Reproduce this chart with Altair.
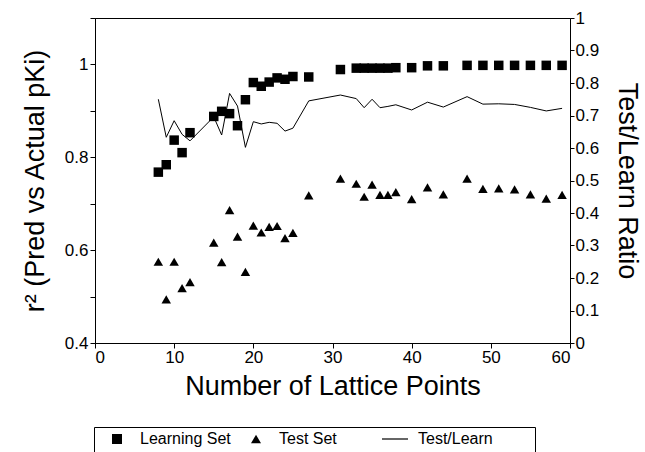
import altair as alt
import pandas as pd

# Number of lattice points
lattice = [8, 9, 10, 11, 12, 15, 16, 17, 18, 19, 20, 21, 22, 23, 24, 25, 27, 31,
           33, 34, 35, 36, 37, 38, 40, 42, 44, 47, 49, 51, 53, 55, 57, 59]
learning_r2 = [0.768, 0.784, 0.837, 0.810, 0.853, 0.888, 0.899, 0.894, 0.868, 0.924,
               0.961, 0.953, 0.962, 0.971, 0.968, 0.974, 0.973, 0.989,
               0.992, 0.992, 0.992, 0.992, 0.992, 0.993, 0.993, 0.997, 0.997, 0.998,
               0.998, 0.998, 0.998, 0.998, 0.998, 0.998]
test_r2 = [0.575, 0.494, 0.575, 0.518, 0.531, 0.616, 0.574, 0.686, 0.629, 0.553,
           0.653, 0.638, 0.650, 0.652, 0.626, 0.637, 0.718, 0.754,
           0.743, 0.715, 0.741, 0.719, 0.719, 0.725, 0.710, 0.735, 0.720, 0.754,
           0.732, 0.733, 0.731, 0.720, 0.711, 0.719]
ratio = [0.750, 0.633, 0.684, 0.642, 0.622, 0.696, 0.640, 0.768, 0.729, 0.602,
         0.681, 0.674, 0.679, 0.676, 0.652, 0.661, 0.745, 0.763,
         0.752, 0.724, 0.750, 0.724, 0.728, 0.733, 0.717, 0.741, 0.726, 0.758,
         0.735, 0.736, 0.734, 0.725, 0.714, 0.722]

series_names = ["Learning Set", "Test Set", "Test/Learn"]

pts = pd.DataFrame({
    "x": lattice + lattice,
    "r2": learning_r2 + test_r2,
    "series": [series_names[0]] * len(lattice) + [series_names[1]] * len(lattice),
})
line_df = pd.DataFrame({"x": lattice, "ratio": ratio})

FONT = "Liberation Sans"

x_enc = alt.X("x:Q", scale=alt.Scale(domain=[0, 60], nice=False),
              axis=alt.Axis(title="Number of Lattice Points", values=list(range(0, 61, 10)),
                            tickSize=5, labelPadding=1, titlePadding=8,
                            titleFontSize=27, titleFontWeight="normal"))

points = alt.Chart(pts).mark_point(filled=True, size=90, color="black", opacity=1).encode(
    x=x_enc,
    y=alt.Y("r2:Q", scale=alt.Scale(domain=[0.4, 1.1], nice=False, zero=False),
            axis=alt.Axis(title="r² (Pred vs Actual pKi)",
                          values=[0.4, 0.5, 0.6, 0.7, 0.8, 0.9, 1.0, 1.1],
                          labelExpr="indexof(['0.4','0.6','0.8','1'], format(datum.value, '.1~f')) >= 0 ? format(datum.value, '.1~f') : ''",
                          tickSize=5, labelPadding=2, titlePadding=15,
                          titleFontSize=27, titleFontWeight="normal")),
    shape=alt.Shape("series:N",
                    scale=alt.Scale(domain=series_names,
                                    range=["square", "triangle-up",
                                           "M-2.6,-0.12H2.6V0.12H-2.6Z"]),
                    legend=alt.Legend(title="\u00a0\u00a0", titleOrient="right",
                                      titlePadding=38, titleFontSize=30,
                                      orient="none", direction="horizontal",
                                      columns=3, gridAlign="all",
                                      legendX=-1, legendY=409,
                                      strokeColor="black", padding=4,
                                      symbolOffset=11,
                                      symbolSize=100, symbolFillColor="black",
                                      symbolOpacity=1,
                                      labelFont=FONT, labelFontSize=16, labelColor="black",
                                      labelOffset=15, columnPadding=6,
                                      cornerRadius=0)),
)

line = alt.Chart(line_df).mark_line(color="black", strokeWidth=1).encode(
    x=alt.X("x:Q"),
    y=alt.Y("ratio:Q", scale=alt.Scale(domain=[0, 1], nice=False),
            axis=alt.Axis(title="Test/Learn Ratio", orient="right",
                          values=[round(i * 0.1, 1) for i in range(11)],
                          format=".1~f", tickSize=4, labelPadding=1, titlePadding=14,
                          titleFontSize=27, titleFontWeight="normal")),
)

chart = alt.layer(points, line).resolve_scale(y="independent").properties(
    width=475, height=325,
    background="white",
    autosize=alt.AutoSizeParams(type="none"),
    padding={"left": 95, "top": 18, "right": 75, "bottom": 109},
).configure_view(stroke="black", strokeWidth=1).configure_axis(
    grid=False, domainColor="black", tickColor="black", labelColor="black",
    titleColor="black", labelFont=FONT, titleFont=FONT, labelFontSize=17,
    titleFontWeight="normal", domainWidth=1, tickWidth=1,
)

chart.save("out.html", embed_options={"renderer": "svg", "actions": False})
